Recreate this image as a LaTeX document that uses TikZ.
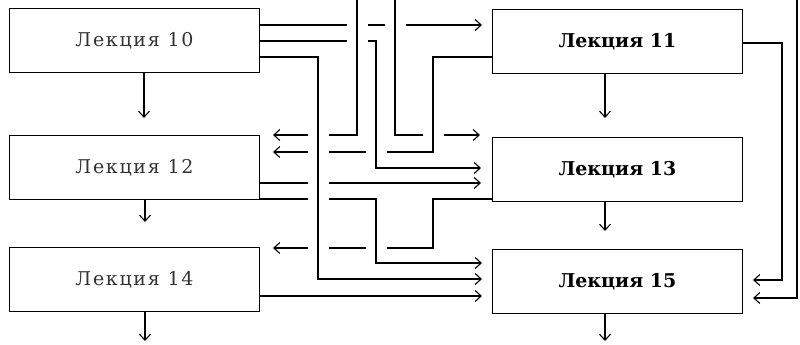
\documentclass[tikz,border=0pt]{standalone}
\usepackage{fontspec}
\setmainfont{DejaVu Serif}
\usetikzlibrary{arrows.meta}

\tikzset{
  line/.style={line width=1.1pt, line cap=butt},
  arr/.style={line, -{Straight Barb[length=6pt,width=11pt,line width=1.1pt]}},
  lect/.style={draw, line width=1.1pt, inner sep=0pt, minimum width=250pt,
               minimum height=64pt, font=\fontsize{19}{22}\selectfont},
  lectL/.style={lect, text=black!80,
                font=\fontsize{19}{22}\selectfont\addfontfeature{LetterSpace=9}},
  lectR/.style={lect, font=\fontsize{19}{22}\selectfont\bfseries},
}

\begin{document}
\begin{tikzpicture}[x=1pt,y=-1pt]
  \useasboundingbox (0,0) rectangle (800,345);

  % lecture boxes
  \node[lectL] (L10) at (134.5,40.5)  {Лекция 10};
  \node[lectL] (L12) at (134.5,167.5) {Лекция 12};
  \node[lectL] (L14) at (134.5,279.5) {Лекция 14};
  \node[lectR] (L11) at (617.5,41.5)  {Лекция 11};
  \node[lectR] (L13) at (617.5,169.5) {Лекция 13};
  \node[lectR] (L15) at (617.5,281.5) {Лекция 15};

  % links entering from above the sheet and leaving below it
  \coordinate (inA) at (357,0);
  \coordinate (inB) at (395,0);
  \coordinate (inC) at (797,0);
  \coordinate (outL) at (145,341);
  \coordinate (outR) at (605,341);

  % vertical sequence in each column
  \draw[arr, shorten >=17pt] (L10.south -| 144,0) -- (L12.north -| 144,0);
  \draw[arr, shorten >=25pt] (L12.south -| 145,0) -- (L14.north -| 145,0);
  \draw[arr] (L14.south -| outL) -- (outL);
  \draw[arr, shorten >=19pt] (L11.south -| 605,0) -- (L13.north -| 605,0);
  \draw[arr, shorten >=18pt] (L13.south -| 605,0) -- (L15.north -| 605,0);
  \draw[arr] (L15.south -| outR) -- (outR);

  % cross links between the columns
  \draw[arr, shorten >=10pt] (L10.east |- 0,25) -- (L11.west |- 0,25);
  \draw[arr, shorten >=11pt] (L10.east |- 0,41) -| (376,168) -- (L13.west |- 0,168);
  \draw[arr, shorten >=10pt] (L10.east |- 0,57) -| (318,279) -- (L15.west |- 0,279);
  \draw[arr, shorten >=13pt] (inA) |- (L12.east |- 0,135);
  \draw[arr, shorten >=12pt] (inB) |- (L13.west |- 0,135);
  \draw[arr, shorten >=13pt] (L11.west |- 0,57) -| (433,152) -- (L12.east |- 0,152);
  \draw[arr, shorten >=11pt] (L12.east |- 0,183) -- (L13.west |- 0,183);
  \draw[arr, shorten >=10pt] (L12.east |- 0,199) -| (376,263) -- (L15.west |- 0,263);
  \draw[arr, shorten >=13pt] (L13.west |- 0,199) -| (433,248) -- (L14.east |- 0,248);
  \draw[arr, shorten >=10pt] (L14.east |- 0,296) -- (L15.west |- 0,296);

  % links along the right side
  \draw[arr, shorten >=10pt] (L11.east |- 0,43) -| (782,280) -- (L15.east |- 0,280);
  \draw[arr, shorten >=10pt] (inC) |- (L15.east |- 0,298);

  % breaks in the horizontal runs where a vertical run passes
  \foreach \cx/\cy in {357/25, 395/25, 357/41, 318/135, 318/152, 376/152,
                       433/135, 318/183, 318/199, 318/248, 376/248} {
    \fill[white] (\cx-10.5,\cy-2.5) rectangle (\cx+10.5,\cy+2.5);
    \draw[line] (\cx,\cy-3.5) -- (\cx,\cy+3.5);
  }
\end{tikzpicture}
\end{document}
